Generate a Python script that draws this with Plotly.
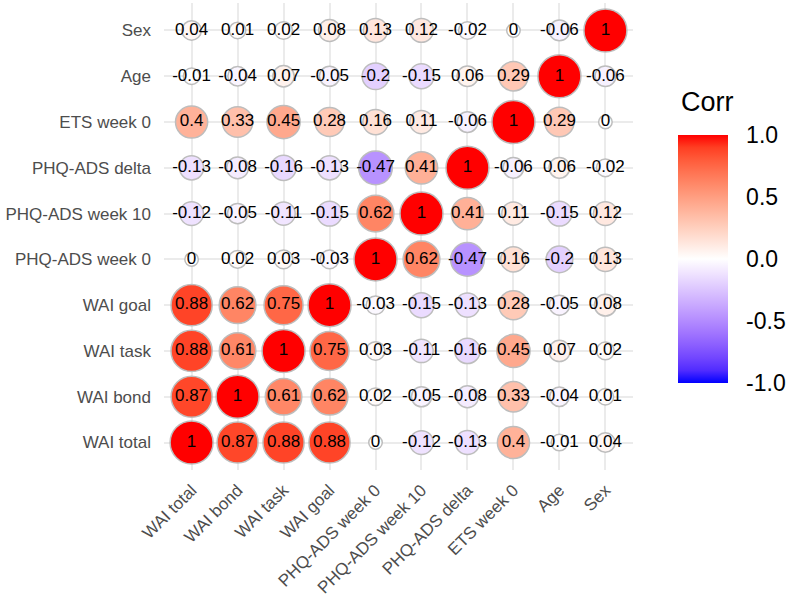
import plotly.graph_objects as go
import numpy as np

variables = ["WAI total", "WAI bond", "WAI task", "WAI goal", "PHQ-ADS week 0",
             "PHQ-ADS week 10", "PHQ-ADS delta", "ETS week 0", "Age", "Sex"]

corr_wai_total = [1, 0.87, 0.88, 0.88, 0, -0.12, -0.13, 0.4, -0.01, 0.04]
corr_wai_bond = [0.87, 1, 0.61, 0.62, 0.02, -0.05, -0.08, 0.33, -0.04, 0.01]
corr_wai_task = [0.88, 0.61, 1, 0.75, 0.03, -0.11, -0.16, 0.45, 0.07, 0.02]
corr_wai_goal = [0.88, 0.62, 0.75, 1, -0.03, -0.15, -0.13, 0.28, -0.05, 0.08]
corr_phq0 = [0, 0.02, 0.03, -0.03, 1, 0.62, -0.47, 0.16, -0.2, 0.13]
corr_phq10 = [-0.12, -0.05, -0.11, -0.15, 0.62, 1, 0.41, 0.11, -0.15, 0.12]
corr_phq_delta = [-0.13, -0.08, -0.16, -0.13, -0.47, 0.41, 1, -0.06, 0.06, -0.02]
corr_ets0 = [0.4, 0.33, 0.45, 0.28, 0.16, 0.11, -0.06, 1, 0.29, 0]
corr_age = [-0.01, -0.04, 0.07, -0.05, -0.2, -0.15, 0.06, 0.29, 1, -0.06]
corr_sex = [0.04, 0.01, 0.02, 0.08, 0.13, 0.12, -0.02, 0, -0.06, 1]

rows = [corr_wai_total, corr_wai_bond, corr_wai_task, corr_wai_goal, corr_phq0,
        corr_phq10, corr_phq_delta, corr_ets0, corr_age, corr_sex]

colorbar_ticks = [-1.0, -0.5, 0.0, 0.5, 1.0]
legend_title = "Corr"


# --- Lab interpolation (like ggplot's scale_fill_gradient2) ---
def srgb_to_lin(c):
    c = c / 255.0
    return np.where(c <= 0.04045, c / 12.92, ((c + 0.055) / 1.055) ** 2.4)


def lin_to_srgb(c):
    c = np.clip(c, 0, 1)
    v = np.where(c <= 0.0031308, 12.92 * c, 1.055 * c ** (1 / 2.4) - 0.055)
    return np.clip(np.round(v * 255), 0, 255)


M = np.array([[0.4124, 0.3576, 0.1805], [0.2126, 0.7152, 0.0722], [0.0193, 0.1192, 0.9505]])
Minv = np.linalg.inv(M)
WP = np.array([0.95047, 1.0, 1.08883])


def f(t):
    d = 6 / 29
    return np.where(t > d ** 3, np.cbrt(t), t / (3 * d * d) + 4 / 29)


def finv(t):
    d = 6 / 29
    return np.where(t > d, t ** 3, 3 * d * d * (t - 4 / 29))


def rgb_to_lab(rgb):
    xyz = M @ srgb_to_lin(np.array(rgb, float)) / WP
    fx, fy, fz = f(xyz)
    return np.array([116 * fy - 16, 500 * (fx - fy), 200 * (fy - fz)])


def lab_to_rgb(lab):
    L, a, b = lab
    fy = (L + 16) / 116
    fx = fy + a / 500
    fz = fy - b / 200
    xyz = finv(np.array([fx, fy, fz])) * WP
    return lin_to_srgb(Minv @ xyz)


lab_low = rgb_to_lab([0, 0, 255])
lab_mid = rgb_to_lab([255, 255, 255])
lab_high = rgb_to_lab([255, 0, 0])
colorscale = []
n = 20
for i in range(n + 1):
    t = i / n
    if t <= 0.5:
        lab = lab_low + (lab_mid - lab_low) * (t / 0.5)
    else:
        lab = lab_mid + (lab_high - lab_mid) * ((t - 0.5) / 0.5)
    r, g, b = lab_to_rgb(lab)
    colorscale.append([t, f"rgb({int(r)},{int(g)},{int(b)})"])

xs, ys, vals, texts, sizes = [], [], [], [], []
for i, row_var in enumerate(variables):
    for j, col_var in enumerate(variables):
        v = rows[i][j]
        xs.append(col_var)
        ys.append(row_var)
        vals.append(v)
        texts.append(f"{v:g}" if v != 0 else "0")
        sizes.append(13.5 + 29.5 * np.sqrt(abs(v)))

font_family = "Liberation Sans, Arial, sans-serif"

fig = go.Figure()
fig.add_trace(go.Scatter(
    x=xs, y=ys, mode="markers+text",
    text=texts, textposition="middle center",
    textfont=dict(size=17, color="black", family=font_family),
    marker=dict(
        size=sizes, sizemode="diameter",
        color=vals, colorscale=colorscale, cmin=-1, cmax=1,
        line=dict(color="#BDBDBD", width=1.5),
        opacity=1,
        showscale=True,
        colorbar=dict(
            thickness=50, thicknessmode="pixels",
            len=248, lenmode="pixels",
            x=1.096, xanchor="left", xref="paper", xpad=0,
            y=0.7184, yanchor="top", yref="paper", ypad=0,
            tickvals=colorbar_ticks,
            ticktext=[f"{t:.1f}" for t in colorbar_ticks],
            tickfont=dict(size=23, color="black", family=font_family),
            ticks="outside", ticklen=14, tickcolor="rgba(0,0,0,0)",
            outlinewidth=0,
        ),
    ),
    hoverinfo="skip",
    showlegend=False,
))

fig.add_annotation(
    text=legend_title, xref="paper", yref="paper",
    x=1.099, y=0.789, xanchor="left", yanchor="middle",
    showarrow=False, font=dict(size=27, color="black", family=font_family),
)

fig.update_xaxes(
    categoryorder="array", categoryarray=variables,
    range=[-0.6, 9.6], tickangle=-45,
    showgrid=True, gridcolor="#EBEBEB", gridwidth=1.6,
    zeroline=False, showline=False, ticks="",
    tickfont=dict(size=17, color="#4D4D4D", family=font_family),
    ticklabelstandoff=6,
)
fig.update_yaxes(
    categoryorder="array", categoryarray=variables,
    range=[-0.6, 9.6],
    showgrid=True, gridcolor="#EBEBEB", gridwidth=1.6,
    zeroline=False, showline=False, ticks="",
    tickfont=dict(size=17, color="#4D4D4D", family=font_family),
    ticklabelstandoff=12,
)

fig.update_layout(
    width=789, height=599,
    margin=dict(l=164, r=156, t=3, b=129),
    paper_bgcolor="white", plot_bgcolor="white",
    font=dict(family=font_family),
)

fig.write_html("out.html")
